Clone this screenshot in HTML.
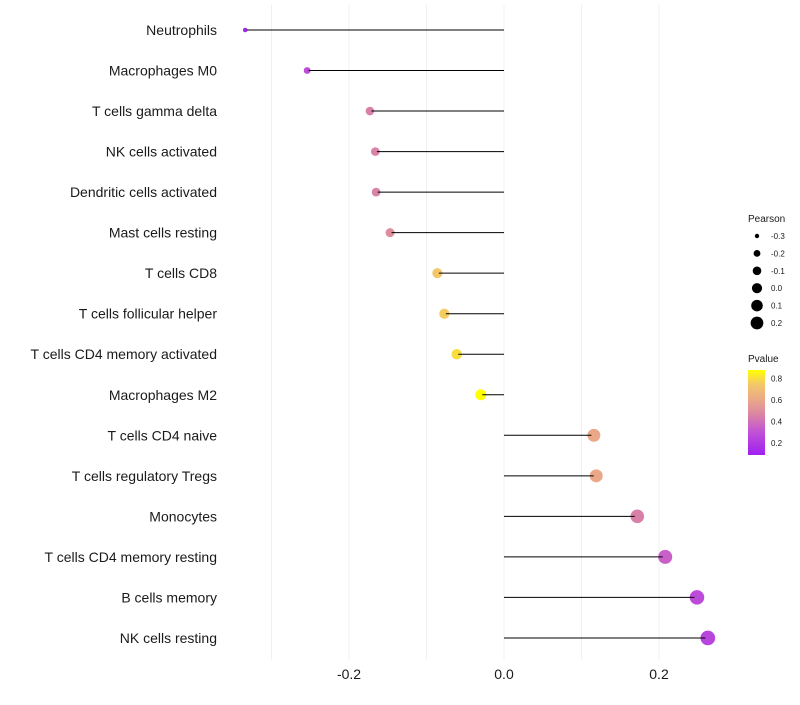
<!DOCTYPE html>
<html><head><meta charset="utf-8"><style>
body{margin:0;background:#fff;font-family:"Liberation Sans",sans-serif;}
</style></head><body>
<svg id="chart" width="800" height="700" font-family="Liberation Sans, sans-serif"></svg>
<script>
const categories=["Neutrophils","Macrophages M0","T cells gamma delta","NK cells activated","Dendritic cells activated","Mast cells resting","T cells CD8","T cells follicular helper","T cells CD4 memory activated","Macrophages M2","T cells CD4 naive","T cells regulatory  Tregs ","Monocytes","T cells CD4 memory resting","B cells memory","NK cells resting"];
const pearson=[-0.334,-0.254,-0.173,-0.166,-0.165,-0.147,-0.086,-0.077,-0.061,-0.030,0.116,0.119,0.172,0.208,0.249,0.263];
const pvalues=[0.12,0.28,0.45,0.46,0.46,0.5,0.74,0.76,0.8,0.88,0.6,0.6,0.45,0.35,0.28,0.25];
const xTicks=[-0.2,0.0,0.2];
const xTickLabels=["-0.2","0.0","0.2"];
const sizeLegend=[-0.3,-0.2,-0.1,0.0,0.1,0.2];
const pTicks=[0.2,0.4,0.6,0.8];

const svg=document.getElementById('chart');
const NS='http://www.w3.org/2000/svg';
function mk(t,a){const e=document.createElementNS(NS,t);for(const k in a)e.setAttribute(k,a[k]);svg.appendChild(e);return e;}
const xS=v=>504+v*775;
const yS=i=>30+i*40.53;
const rS=v=>Math.sqrt(5+(v+0.334)*82);
const stops=[[0.09,[160,32,240]],[0.3,[192,80,216]],[0.45,[216,128,168]],[0.6,[234,168,136]],[0.75,[244,200,104]],[0.88,[255,255,0]]];
function col(p){p=Math.max(0.09,Math.min(0.88,p));
 for(let i=0;i<stops.length-1;i++){const a=stops[i],b=stops[i+1];
  if(p<=b[0]){const t=(p-a[0])/(b[0]-a[0]);return `rgb(${a[1].map((x,j)=>Math.round(x+(b[1][j]-x)*t))})`;}}
 return 'rgb(255,255,0)';}
[-0.3,-0.2,-0.1,0,0.1,0.2].forEach(v=>{const g=mk('line',{x1:xS(v),x2:xS(v),y1:5,y2:660,stroke:'#f0f0f0','stroke-width':1});
});
categories.forEach((c,i)=>{
 const t=mk('text',{x:217,y:yS(i)+5,'text-anchor':'end','font-size':14,fill:'#1a1a1a'});t.textContent=c;
 
 const d=mk('circle',{cx:xS(pearson[i]),cy:yS(i),r:rS(pearson[i]),fill:col(pvalues[i])});
 
 const end=xS(pearson[i])+(pearson[i]<0?1.5:-2.5);
 const l=mk('line',{x1:xS(0),x2:end,y1:yS(i),y2:yS(i),stroke:'#000','stroke-width':1});
 
});
xTicks.forEach((v,i)=>{const t=mk('text',{x:xS(v),y:679,'text-anchor':'middle','font-size':14,fill:'#1a1a1a'});t.textContent=xTickLabels[i];
});
let t=mk('text',{x:748,y:222,'font-size':10,fill:'#1a1a1a'});t.textContent='Pearson';

sizeLegend.forEach((v,i)=>{const y=236+i*17.4;
 const c=mk('circle',{cx:757,cy:y,r:rS(v)-0.6,fill:'#000'});
 const tx=mk('text',{x:771,y:y+3,'font-size':8,fill:'#1a1a1a'});tx.textContent=v.toFixed(1);
 });
t=mk('text',{x:748,y:362,'font-size':10,fill:'#1a1a1a'});t.textContent='Pvalue';

const defs=mk('defs',{});const lg=document.createElementNS(NS,'linearGradient');
lg.setAttribute('id','pg');lg.setAttribute('x1',0);lg.setAttribute('y1',1);lg.setAttribute('x2',0);lg.setAttribute('y2',0);
stops.forEach(s=>{const st=document.createElementNS(NS,'stop');st.setAttribute('offset',(s[0]-0.09)/0.79);st.setAttribute('stop-color',`rgb(${s[1]})`);lg.appendChild(st);});
defs.appendChild(lg);
const bar=mk('rect',{x:748,y:370,width:17,height:85,fill:'url(#pg)'});
const pY=p=>455-(p-0.09)/0.79*85;
pTicks.forEach(p=>{const tx=mk('text',{x:771,y:pY(p)+3,'font-size':8,fill:'#1a1a1a'});tx.textContent=p.toFixed(1);
 });
</script>
</body></html>
